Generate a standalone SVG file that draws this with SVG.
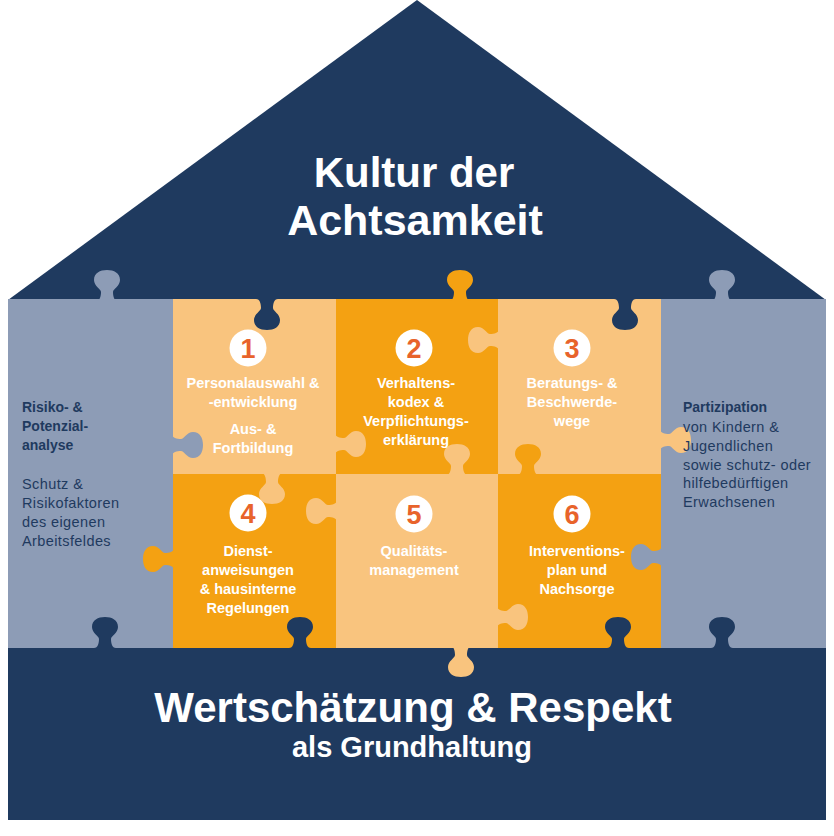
<svg xmlns="http://www.w3.org/2000/svg" xmlns:xlink="http://www.w3.org/1999/xlink" width="834" height="836" viewBox="0 0 834 836">
<defs>
<style>
.navy{fill:#1f3a5f}
.grey{fill:#8d9cb6}
.light{fill:#f9c47e}
.orange{fill:#f4a112}
.title{font-family:"Liberation Sans",Arial,sans-serif;font-weight:bold;fill:#ffffff;text-anchor:middle}
.lbl{font-family:"Liberation Sans",Arial,sans-serif;font-weight:bold;font-size:14.5px;fill:#ffffff;text-anchor:middle}
.num{font-family:"Liberation Sans",Arial,sans-serif;font-weight:bold;font-size:27px;fill:#e8632b;text-anchor:middle}
.side{font-family:"Liberation Sans",Arial,sans-serif;font-size:14.5px;fill:#1f3a5f;letter-spacing:0.4px}
.sideb{font-family:"Liberation Sans",Arial,sans-serif;font-size:14px;font-weight:bold;fill:#1f3a5f}
</style>
<path id="tab" d="M -11 1 C -7 1 -6 -4 -6 -8 C -6 -11 -13 -14 -13 -20 C -13 -27 -7 -30 0 -30 C 7 -30 13 -27 13 -20 C 13 -14 6 -11 6 -8 C 6 -4 7 1 11 1 Z"/>
</defs>
<rect width="834" height="836" fill="#ffffff"/>
<g id="roof"><polygon class="navy" points="8,300 417,0 826,300"/></g>
<g id="base"><rect class="navy" x="8" y="647" width="818" height="173"/></g>
<g id="piece-risiko"><rect class="grey" x="8" y="299" width="166" height="349"/></g>
<g id="piece-partizipation"><rect class="grey" x="660" y="299" width="166" height="349"/></g>
<g id="piece-1"><rect class="light" x="173" y="299" width="164" height="176"/></g>
<g id="piece-2"><rect class="orange" x="336" y="299" width="163" height="176"/></g>
<g id="piece-3"><rect class="light" x="498" y="299" width="163" height="176"/></g>
<g id="piece-4"><rect class="orange" x="173" y="474" width="164" height="174"/></g>
<g id="piece-5"><rect class="light" x="336" y="474" width="163" height="174"/></g>
<g id="piece-6"><rect class="orange" x="498" y="474" width="163" height="174"/></g>
<g id="tabs">
<use xlink:href="#tab" class="grey" transform="translate(107,300)"/>
<use xlink:href="#tab" class="orange" transform="translate(460,300)"/>
<use xlink:href="#tab" class="grey" transform="translate(722,300)"/>
<use xlink:href="#tab" class="navy" transform="translate(267,300) rotate(180)"/>
<use xlink:href="#tab" class="navy" transform="translate(625,300) rotate(180)"/>
<use xlink:href="#tab" class="grey" transform="translate(173,445) rotate(90)"/>
<use xlink:href="#tab" class="light" transform="translate(336,444) rotate(90)"/>
<use xlink:href="#tab" class="light" transform="translate(498,340) rotate(-90)"/>
<use xlink:href="#tab" class="light" transform="translate(661,440) rotate(90)"/>
<use xlink:href="#tab" class="light" transform="translate(272,474) rotate(180)"/>
<use xlink:href="#tab" class="light" transform="translate(457,474)"/>
<use xlink:href="#tab" class="orange" transform="translate(528,474)"/>
<use xlink:href="#tab" class="orange" transform="translate(173,559) rotate(-90)"/>
<use xlink:href="#tab" class="light" transform="translate(336,511) rotate(-90)"/>
<use xlink:href="#tab" class="light" transform="translate(498,617) rotate(90)"/>
<use xlink:href="#tab" class="grey" transform="translate(661,557) rotate(-90)"/>
<use xlink:href="#tab" class="navy" transform="translate(105,647)"/>
<use xlink:href="#tab" class="navy" transform="translate(300,647)"/>
<use xlink:href="#tab" class="navy" transform="translate(618,647)"/>
<use xlink:href="#tab" class="navy" transform="translate(722,647)"/>
<use xlink:href="#tab" class="light" transform="translate(461,647) rotate(180)"/>
</g>
<g id="roof-label">
<text class="title" x="414" y="187" font-size="42">Kultur der</text>
<text class="title" x="415" y="235" font-size="43">Achtsamkeit</text>
</g>
<g id="base-label">
<text class="title" x="413" y="722" font-size="42">Wertschätzung &amp; Respekt</text>
<text class="title" x="412" y="757" font-size="29">als Grundhaltung</text>
</g>
<g id="risiko-label">
<text class="sideb" x="22" y="412">Risiko- &amp;</text>
<text class="sideb" x="22" y="431">Potenzial-</text>
<text class="sideb" x="22" y="450">analyse</text>
<text class="side" x="22" y="489">Schutz &amp;</text>
<text class="side" x="22" y="508">Risikofaktoren</text>
<text class="side" x="22" y="527">des eigenen</text>
<text class="side" x="22" y="546">Arbeitsfeldes</text>
</g>
<g id="partizipation-label">
<text class="sideb" x="683" y="412">Partizipation</text>
<text class="side" x="683" y="432">von Kindern &amp;</text>
<text class="side" x="683" y="451">Jugendlichen</text>
<text class="side" x="683" y="470">sowie schutz- oder</text>
<text class="side" x="683" y="488">hilfebedürftigen</text>
<text class="side" x="683" y="507">Erwachsenen</text>
</g>
<g id="label-1">
<circle cx="248" cy="348" r="18.5" fill="#ffffff"/>
<text class="num" x="248" y="358">1</text>
<text class="lbl" x="253" y="388">Personalauswahl &amp;</text>
<text class="lbl" x="253" y="407">-entwicklung</text>
<text class="lbl" x="253" y="434">Aus- &amp;</text>
<text class="lbl" x="253" y="453">Fortbildung</text>
</g>
<g id="label-2">
<circle cx="414" cy="348" r="18.5" fill="#ffffff"/>
<text class="num" x="414" y="358">2</text>
<text class="lbl" x="416" y="388">Verhaltens-</text>
<text class="lbl" x="416" y="407">kodex &amp;</text>
<text class="lbl" x="416" y="426">Verpflichtungs-</text>
<text class="lbl" x="416" y="445">erklärung</text>
</g>
<g id="label-3">
<circle cx="572" cy="348" r="18.5" fill="#ffffff"/>
<text class="num" x="572" y="358">3</text>
<text class="lbl" x="572" y="388">Beratungs- &amp;</text>
<text class="lbl" x="572" y="407">Beschwerde-</text>
<text class="lbl" x="572" y="426">wege</text>
</g>
<g id="label-4">
<circle cx="248" cy="513" r="18.5" fill="#ffffff"/>
<text class="num" x="248" y="523">4</text>
<text class="lbl" x="248" y="556">Dienst-</text>
<text class="lbl" x="248" y="575">anweisungen</text>
<text class="lbl" x="248" y="594">&amp; hausinterne</text>
<text class="lbl" x="248" y="613">Regelungen</text>
</g>
<g id="label-5">
<circle cx="414" cy="514" r="18.5" fill="#ffffff"/>
<text class="num" x="414" y="524">5</text>
<text class="lbl" x="414" y="556">Qualitäts-</text>
<text class="lbl" x="414" y="575">management</text>
</g>
<g id="label-6">
<circle cx="572" cy="514" r="18.5" fill="#ffffff"/>
<text class="num" x="572" y="524">6</text>
<text class="lbl" x="577" y="556">Interventions-</text>
<text class="lbl" x="577" y="575">plan und</text>
<text class="lbl" x="577" y="594">Nachsorge</text>
</g>
</svg>
